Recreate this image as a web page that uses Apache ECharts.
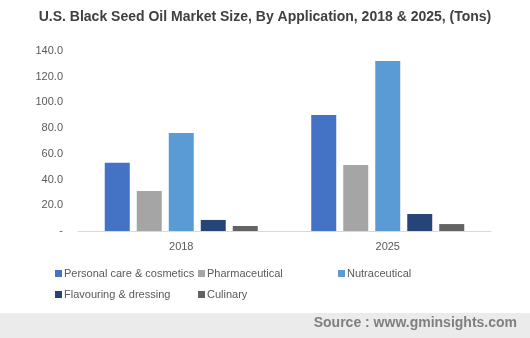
<!DOCTYPE html>
<html>
<head>
<meta charset="utf-8">
<script src="https://cdn.jsdelivr.net/npm/echarts@6/dist/echarts.min.js"></script>
<style>
html,body{margin:0;padding:0;background:#fff;}
#c{width:530px;height:338px;}
</style>
</head>
<body>
<div id="c"></div>
<script>
var categories = ['2018', '2025'];
var seriesNames = ['Personal care & cosmetics', 'Pharmaceutical', 'Nutraceutical', 'Flavouring & dressing', 'Culinary'];
var personalCare = [53.0, 90.3];
var pharmaceutical = [31.1, 51.4];
var nutraceutical = [76.3, 132.3];
var flavouring = [8.6, 13.2];
var culinary = [3.9, 5.4];
var yTicks = [0, 20, 40, 60, 80, 100, 120, 140];

var values = [personalCare, pharmaceutical, nutraceutical, flavouring, culinary];
var colors = ['#4472C4', '#A5A5A5', '#5B9BD5', '#264478', '#636363'];
var legendPos = [[55, 268], [198, 268], [338, 268], [55, 289], [198, 289]];

var chart = echarts.init(document.getElementById('c'), null, {renderer: 'canvas'});
var font = '"Liberation Sans", Arial, sans-serif';

var legends = seriesNames.map(function (n, i) {
  return {
    data: [n],
    left: legendPos[i][0],
    top: legendPos[i][1],
    itemWidth: 7,
    itemHeight: 7,
    itemGap: 0,
    padding: 0,
    icon: 'rect',
    selectedMode: false,
    textStyle: {color: '#595959', fontSize: 11, fontFamily: font, padding: [0, 0, 0, -3]}
  };
});

chart.setOption({
  animation: false,
  backgroundColor: '#fff',
  title: {
    text: 'U.S. Black Seed Oil Market Size, By Application, 2018 & 2025, (Tons)',
    left: 'center',
    top: 5,
    textStyle: {fontFamily: font, fontSize: 14, fontWeight: 'bold', color: '#404040'}
  },
  legend: legends,
  grid: {left: 78, right: 39, top: 51, height: 180, containLabel: false},
  xAxis: {
    type: 'category',
    data: categories,
    axisLine: {lineStyle: {color: '#d9d9d9', width: 1}},
    axisTick: {show: false},
    axisLabel: {color: '#595959', fontSize: 11, fontFamily: font, margin: 10}
  },
  yAxis: {
    type: 'value',
    min: 0,
    max: 140,
    interval: 20,
    axisLine: {show: false},
    axisTick: {show: false},
    splitLine: {show: false},
    axisLabel: {
      color: '#595959', fontSize: 11, fontFamily: font, margin: 15,
      formatter: function (v) { return v === yTicks[0] ? '-' : v.toFixed(1); }
    }
  },
  graphic: [
    {type: 'rect', left: 0, top: 313, shape: {width: 530, height: 25}, style: {fill: '#ebebeb'}, silent: true},
    {type: 'text', right: 13, top: 316, style: {text: 'Source : www.gminsights.com', fill: '#7f7f7f', font: 'bold 14px "Liberation Sans", Arial, sans-serif'}}
  ],
  series: seriesNames.map(function (n, i) {
    return {
      name: n,
      type: 'bar',
      data: values[i],
      barWidth: 25,
      barGap: '28%',
      itemStyle: {color: colors[i]}
    };
  })
});
</script>
</body>
</html>
